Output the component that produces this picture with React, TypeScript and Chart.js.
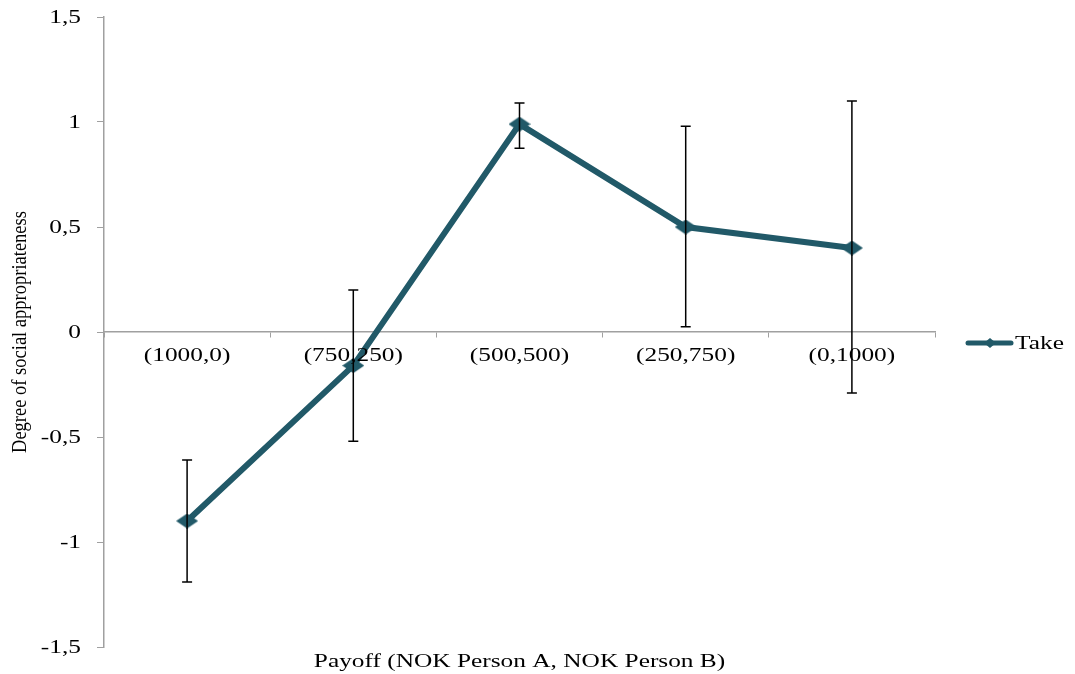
import React, { useEffect, useRef } from "react";
import { Chart, registerables } from "chart.js";

Chart.register(...registerables);

const categories = ["(1000,0)", "(750,250)", "(500,500)", "(250,750)", "(0,1000)"];
const takeValues = [-0.9, -0.16, 0.99, 0.5, 0.4];
const errLow = [-1.19, -0.52, 0.875, 0.025, -0.29];
const errHigh = [-0.61, 0.2, 1.09, 0.98, 1.1];
const yTickValues = [-1.5, -1, -0.5, 0, 0.5, 1, 1.5];
const yTickLabels = ["-1,5", "-1", "-0,5", "0", "0,5", "1", "1,5"];
const seriesName = "Take";
const xTitle = "Payoff (NOK Person A, NOK Person B)";
const yTitle = "Degree of social appropriateness";

const TEAL = "#215968";
const AXIS = "#a0a0a0";
const FONT = '19.5px "Liberation Serif"';
const STRETCH = 1.3;

function sText(ctx: CanvasRenderingContext2D, text: string, x: number, y: number, align: CanvasTextAlign) {
  ctx.save();
  ctx.translate(x, y);
  ctx.scale(STRETCH, 1);
  ctx.font = FONT;
  ctx.fillStyle = "#000";
  ctx.textAlign = align;
  ctx.textBaseline = "middle";
  ctx.fillText(text, 0, 0);
  ctx.restore();
}

function makeDiamond(w: number, h: number, color: string) {
  const c = document.createElement("canvas");
  c.width = w;
  c.height = h;
  const g = c.getContext("2d")!;
  g.fillStyle = color;
  g.beginPath();
  g.moveTo(w / 2, 0);
  g.lineTo(w, h / 2);
  g.lineTo(w / 2, h);
  g.lineTo(0, h / 2);
  g.closePath();
  g.fill();
  return c;
}

const customPlugin = {
  id: "customDraw",
  afterDatasetsDraw(chart: any) {
    const ctx: CanvasRenderingContext2D = chart.ctx;
    const xs = chart.scales.x;
    const ys = chart.scales.y;
    ctx.save();
    ctx.strokeStyle = "#000";
    ctx.lineWidth = 1.5;
    for (let i = 0; i < categories.length; i++) {
      const x = xs.getPixelForValue(i);
      const yl = ys.getPixelForValue(errLow[i]);
      const yh = ys.getPixelForValue(errHigh[i]);
      ctx.beginPath();
      ctx.moveTo(x, yl);
      ctx.lineTo(x, yh);
      ctx.moveTo(x - 5, yl);
      ctx.lineTo(x + 5, yl);
      ctx.moveTo(x - 5, yh);
      ctx.lineTo(x + 5, yh);
      ctx.stroke();
    }
    ctx.restore();
  },
  afterDraw(chart: any) {
    const ctx: CanvasRenderingContext2D = chart.ctx;
    const xs = chart.scales.x;
    const ys = chart.scales.y;
    const area = chart.chartArea;
    // y tick labels
    yTickValues.forEach((v, i) => {
      sText(ctx, yTickLabels[i], 81, ys.getPixelForValue(v) + 1, "right");
    });
    // x category labels
    const zero = ys.getPixelForValue(0);
    categories.forEach((c, i) => {
      sText(ctx, c, xs.getPixelForValue(i), zero + 24, "center");
    });
    // x title
    sText(ctx, xTitle, (area.left + area.right) / 2, 662, "center");
    // y title
    ctx.save();
    ctx.translate(21, (area.top + area.bottom) / 2);
    ctx.scale(1.1, 1);
    ctx.rotate(-Math.PI / 2);
    ctx.font = '18.5px "Liberation Serif"';
    ctx.fillStyle = "#000";
    ctx.textAlign = "center";
    ctx.textBaseline = "middle";
    ctx.fillText(yTitle, 0, 0);
    ctx.restore();
    // legend
    const ly = 343;
    ctx.save();
    ctx.strokeStyle = TEAL;
    ctx.lineWidth = 5;
    ctx.lineCap = "round";
    ctx.beginPath();
    ctx.moveTo(968, ly);
    ctx.lineTo(1011, ly);
    ctx.stroke();
    ctx.fillStyle = TEAL;
    ctx.beginPath();
    ctx.moveTo(990, ly - 5);
    ctx.lineTo(996, ly);
    ctx.lineTo(990, ly + 5);
    ctx.lineTo(984, ly);
    ctx.closePath();
    ctx.fill();
    ctx.restore();
    sText(ctx, seriesName, 1015, ly + 1, "left");
  },
};

export default function App() {
  const ref = useRef<HTMLCanvasElement | null>(null);
  useEffect(() => {
    if (!ref.current) return;
    const marker = makeDiamond(22, 15, TEAL);
    const chart = new Chart(ref.current, {
      type: "line",
      data: {
        labels: categories,
        datasets: [
          {
            label: seriesName,
            data: takeValues,
            borderColor: TEAL,
            backgroundColor: TEAL,
            borderWidth: 6,
            pointStyle: marker as any,
            pointRadius: 9,
            tension: 0,
          },
        ],
      },
      plugins: [customPlugin],
      options: {
        animation: false,
        responsive: true,
        maintainAspectRatio: false,
        layout: { padding: { top: 17, bottom: 27, right: 140, left: 0 } },
        plugins: {
          legend: { display: false },
          title: { display: false },
          tooltip: { enabled: false },
        },
        scales: {
          x: {
            type: "category",
            position: { y: 0 } as any,
            offset: true,
            grid: {
              offset: true,
              drawOnChartArea: false,
              drawTicks: true,
              tickLength: 5,
              color: AXIS,
            },
            border: { display: true, color: AXIS, width: 1.5 },
            ticks: { display: false },
          },
          y: {
            min: -1.5,
            max: 1.5,
            afterFit: (s: any) => {
              s.width = 104;
            },
            grid: {
              drawOnChartArea: false,
              drawTicks: true,
              tickLength: 7,
              color: AXIS,
            },
            border: { display: true, color: AXIS, width: 1.5 },
            ticks: { display: false, stepSize: 0.5 },
          },
        },
      },
    });
    return () => chart.destroy();
  }, []);
  return (
    <div style={{ position: "absolute", left: 0, top: 0, width: 1075, height: 674 }}>
      <canvas ref={ref} />
    </div>
  );
}
